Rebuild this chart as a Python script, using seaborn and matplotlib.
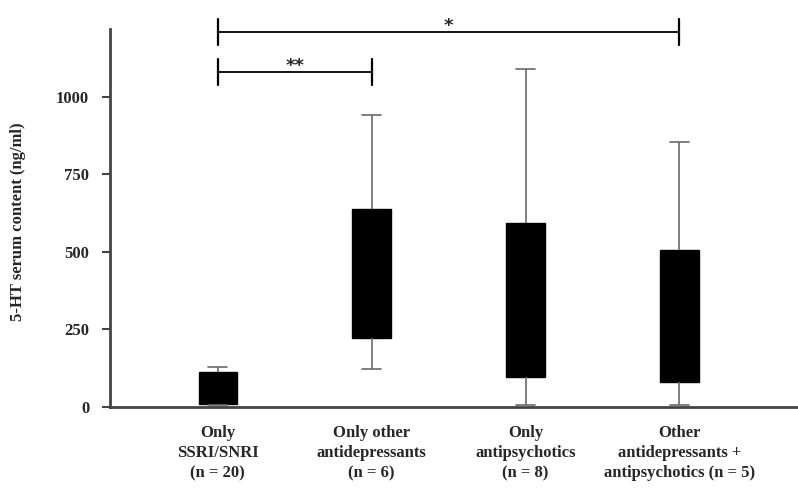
import numpy as np
import pandas as pd
import matplotlib
matplotlib.use("Agg")
import matplotlib.pyplot as plt
import seaborn as sns

categories = ["Only\nSSRI/SNRI\n(n = 20)",
              "Only other\nantidepressants\n(n = 6)",
              "Only\nantipsychotics\n(n = 8)",
              "Other\nantidepressants +\nantipsychotics (n = 5)"]
whisker_low = [5, 124, 5, 7]
q1 = [10, 224, 97, 81]
median = [60, 430, 345, 290]
q3 = [112, 638, 594, 506]
whisker_high = [130, 942, 1090, 855]
y_ticks = [0, 250, 500, 750, 1000]

rows = []
for i, c in enumerate(categories):
    for v in (whisker_low[i], q1[i], median[i], q3[i], whisker_high[i]):
        rows.append({"group": c, "value": v})
df = pd.DataFrame(rows)

sns.set_style("ticks")
plt.rcParams["font.family"] = ["Liberation Serif", "DejaVu Serif"]
plt.rcParams["font.weight"] = "bold"

fig = plt.figure(figsize=(7.98, 4.9), dpi=100)
ax = fig.add_axes([110/798, 83/490, 688/798, 378/490])

sns.boxplot(data=df, x="group", y="value", order=categories, ax=ax,
            whis=(0, 100), width=0.25, color="black", saturation=1,
            showfliers=False,
            boxprops={"facecolor": "black", "edgecolor": "black", "linewidth": 1},
            whiskerprops={"color": "#6a6a6a", "linewidth": 1.2},
            capprops={"color": "#6a6a6a", "linewidth": 1.2},
            medianprops={"color": "black", "linewidth": 1})

ax.set_ylim(0, 1219)
ax.set_xlim(-0.70, 3.77)
ax.set_yticks(y_ticks)
ax.set_yticklabels([str(t) for t in y_ticks], fontsize=12, fontweight="bold")
ax.set_xticks(range(len(categories)))
ax.set_xticklabels(categories, fontsize=12, fontweight="bold", linespacing=1.35)
ax.tick_params(axis="x", length=0, pad=13)
ax.tick_params(axis="y", length=6, width=1.5, color="#444444", pad=9)
ax.set_xlabel("")
ax.set_ylabel("5-HT serum content (ng/ml)", fontsize=12, fontweight="bold")
ax.yaxis.set_label_coords(-0.122, 0.49)

for s in ["top", "right"]:
    ax.spines[s].set_visible(False)
for s in ["left", "bottom"]:
    ax.spines[s].set_color("#444444")
    ax.spines[s].set_linewidth(2)

# significance brackets
brackets = [(0, 3, 1210, "*"), (0, 1, 1081, "**")]
for x1, x2, y, label in brackets:
    ax.plot([x1, x2], [y, y], color="black", lw=1.3, clip_on=False)
    for xx in (x1, x2):
        ax.plot([xx, xx], [y - 42, y + 42], color="black", lw=1.6, clip_on=False)
    ax.text((x1 + x2) / 2, y + 4, label, ha="center", va="baseline",
            fontsize=13, fontweight="bold", family="DejaVu Sans")

fig.savefig("out.png", dpi=100)
